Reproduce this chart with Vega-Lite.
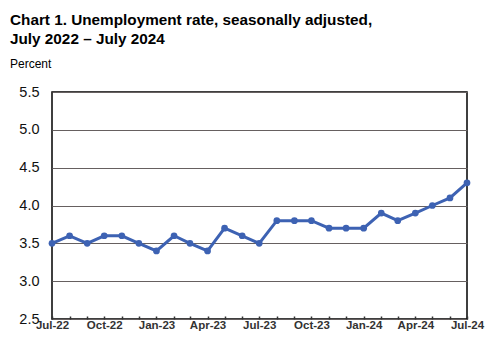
{
  "$schema": "https://vega.github.io/schema/vega-lite/v6.json",
  "autosize": "none",
  "width": 415,
  "height": 227,
  "padding": {"left": 52, "top": 92, "right": 29, "bottom": 40},
  "background": "white",
  "title": {
    "text": ["Chart 1. Unemployment rate, seasonally adjusted,", "July 2022 \u2013 July 2024"],
    "subtitle": "Percent",
    "anchor": "start",
    "frame": "group",
    "dx": -42,
    "offset": 14,
    "font": "Liberation Sans",
    "fontSize": 15.3,
    "fontWeight": "bold",
    "color": "black",
    "lineHeight": 19,
    "subtitleFont": "Liberation Sans",
    "subtitleFontSize": 12,
    "subtitleColor": "black",
    "subtitlePadding": 12
  },
  "config": {
    "view": {"stroke": "black", "strokeWidth": 1.5},
    "axis": {"labelFont": "Liberation Sans", "domain": false}
  },
  "data": {
    "values": [
      {"month": "2022-07-01", "rate": 3.5},
      {"month": "2022-08-01", "rate": 3.6},
      {"month": "2022-09-01", "rate": 3.5},
      {"month": "2022-10-01", "rate": 3.6},
      {"month": "2022-11-01", "rate": 3.6},
      {"month": "2022-12-01", "rate": 3.5},
      {"month": "2023-01-01", "rate": 3.4},
      {"month": "2023-02-01", "rate": 3.6},
      {"month": "2023-03-01", "rate": 3.5},
      {"month": "2023-04-01", "rate": 3.4},
      {"month": "2023-05-01", "rate": 3.7},
      {"month": "2023-06-01", "rate": 3.6},
      {"month": "2023-07-01", "rate": 3.5},
      {"month": "2023-08-01", "rate": 3.8},
      {"month": "2023-09-01", "rate": 3.8},
      {"month": "2023-10-01", "rate": 3.8},
      {"month": "2023-11-01", "rate": 3.7},
      {"month": "2023-12-01", "rate": 3.7},
      {"month": "2024-01-01", "rate": 3.7},
      {"month": "2024-02-01", "rate": 3.9},
      {"month": "2024-03-01", "rate": 3.8},
      {"month": "2024-04-01", "rate": 3.9},
      {"month": "2024-05-01", "rate": 4.0},
      {"month": "2024-06-01", "rate": 4.1},
      {"month": "2024-07-01", "rate": 4.3}
    ]
  },
  "mark": {"type": "line", "color": "#3d62b3", "strokeWidth": 3, "point": {"filled": true, "size": 45, "color": "#3d62b3"}},
  "encoding": {
    "x": {
      "field": "month",
      "type": "temporal",
      "scale": {"type": "utc", "nice": false},
      "axis": {
        "title": null,
        "grid": false,
        "tickCount": {"interval": "month", "step": 1},
        "labelExpr": "utcmonth(datum.value) % 3 == 0 ? utcFormat(datum.value, '%b-%y') : ''",
        "labelFontSize": 11.5,
        "labelFontWeight": "bold",
        "labelColor": "#333333",
        "labelPadding": 3,
        "labelOverlap": false,
        "labelFlush": false,
        "tickSize": -3,
        "tickColor": "#333333",
        "tickWidth": 1.5
      }
    },
    "y": {
      "field": "rate",
      "type": "quantitative",
      "scale": {"domain": [2.5, 5.5], "nice": false, "zero": false},
      "axis": {
        "title": null,
        "values": [2.5, 3.0, 3.5, 4.0, 4.5, 5.0, 5.5],
        "format": ".1f",
        "ticks": false,
        "labelFontSize": 14.5,
        "labelColor": "#111111",
        "labelPadding": 13,
        "gridColor": "#666060",
        "gridWidth": 1.2,
        "gridOpacity": 1
      }
    }
  }
}
